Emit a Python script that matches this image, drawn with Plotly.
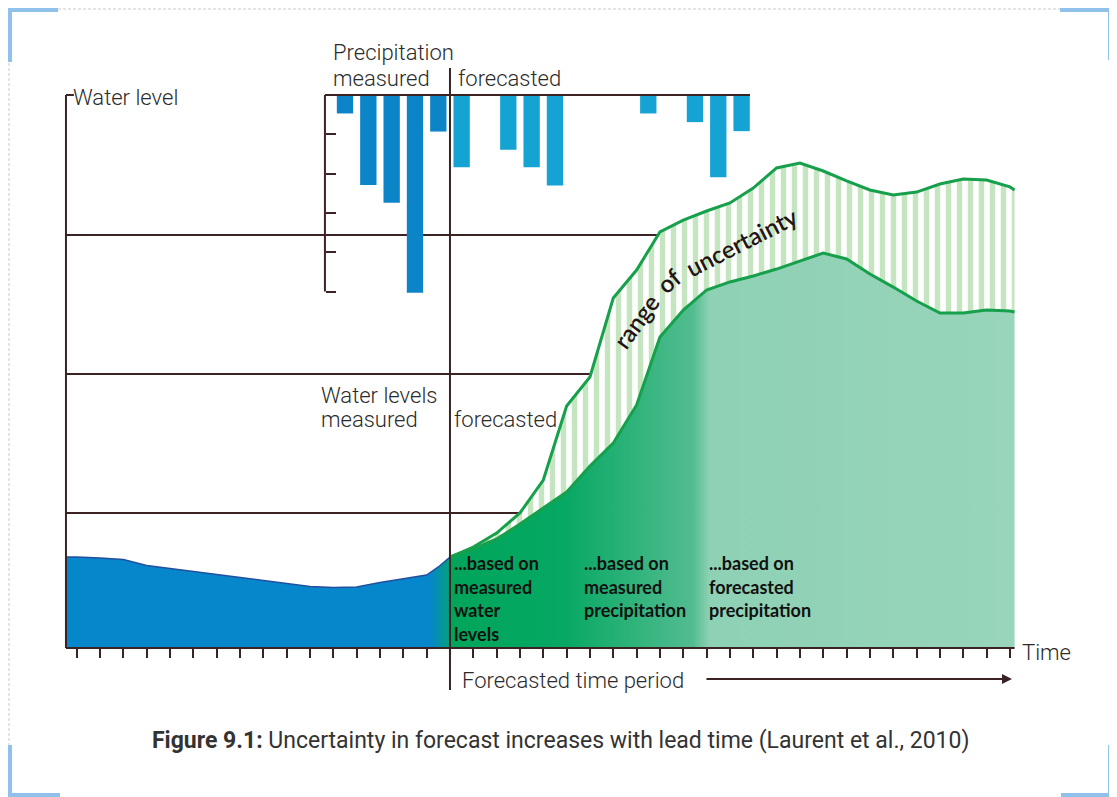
import plotly.graph_objects as go

# page is drawn 8px in from the window corner (default body margin)
OFF = 8
W, H = 1109, 789

# ---- data ----
# time steps (tick marks on the time axis)
time_ticks = list(range(0, 41))
t_start, t_now, t_end = -0.46, 16, 40.2

# measured water level (blue area)
meas_t = [-0.46, 0, 1, 2, 3, 4, 5, 6, 7, 8, 9, 10, 11, 12, 13, 14, 15, 15.5, 16]
meas_level = [0.657, 0.657, 0.650, 0.639, 0.596, 0.574, 0.556, 0.531, 0.509, 0.491,
              0.466, 0.444, 0.437, 0.440, 0.473, 0.502, 0.527, 0.585, 0.657]

# forecasted water level: lower and upper bound of the uncertainty range
fc_t = [16, 17, 18, 19, 20, 21, 22, 23, 24, 25, 26, 27, 28, 29, 30, 31, 32, 33, 34,
        35, 36, 37, 38, 39, 40, 40.2]
fc_low = [0.657, 0.715, 0.787, 0.895, 1.011, 1.126, 1.314, 1.480, 1.755, 2.245, 2.440,
          2.585, 2.643, 2.686, 2.736, 2.794, 2.852, 2.809, 2.700, 2.606, 2.505, 2.419,
          2.419, 2.440, 2.433, 2.426]
fc_high = [0.657, 0.729, 0.830, 0.975, 1.213, 1.747, 1.957, 2.527, 2.729, 3.004, 3.090,
           3.155, 3.213, 3.321, 3.466, 3.502, 3.444, 3.372, 3.307, 3.271, 3.292, 3.350,
           3.386, 3.379, 3.329, 3.307]

grid_levels = [0.975, 1.978, 2.982]
grid_end_t = 30
top_level = 3.993

# precipitation (bars hanging from the top line)
prec_meas_t = [11.5, 12.5, 13.5, 14.5, 15.5]
prec_meas = [0.47, 2.29, 2.74, 5.03, 0.93]
prec_fc_t = [16.5, 18.5, 19.5, 20.5, 24.5, 26.5, 27.5, 28.5]
prec_fc = [1.84, 1.39, 1.84, 2.30, 0.47, 0.69, 2.09, 0.92]
prec_ticks = [1, 2, 3, 4, 5]
prec_axis_t, prec_line_end_t = 10.64, 28.86

# ---- scale of the drawing (window pixels per unit) ----
X0, PX_T = 76.7, 23.33      # pixel of t=0, pixels per time step
Y0, PX_L = 648, 138.5       # pixel of level 0, pixels per level unit
P0, PX_P = 95, 39.3         # pixel of precipitation 0, pixels per unit

INK = '#3b2323'
TXT = '#2b2b2b'
GREEN_LINE = '#17a04c'


def px(x):
    return (x - OFF) / W


def py(y):
    return 1 - (y - OFF) / H


fig = go.Figure()

# horizontal reference lines (behind everything)
for lvl in grid_levels:
    fig.add_trace(go.Scatter(x=[t_start, grid_end_t], y=[lvl, lvl], mode='lines',
                             line=dict(color=INK, width=2), hoverinfo='skip'))

# measured water level
fig.add_trace(go.Scatter(
    x=meas_t, y=meas_level, mode='lines', fill='tozeroy',
    line=dict(color='#22509e', width=1.5),
    fillgradient=dict(type='horizontal', start=t_start, stop=t_now,
                      colorscale=[[0, '#0787cb'], [0.95, '#0787cb'], [1, '#03a07a']]),
))

# forecast: area under lower bound
fig.add_trace(go.Scatter(
    x=fc_t, y=fc_low, mode='lines', fill='tozeroy', line=dict(width=0),
    fillgradient=dict(type='horizontal', start=t_now, stop=t_end,
                      colorscale=[[0, '#00a55a'], [0.2, '#06a863'], [0.43, '#52bc8f'],
                                  [0.46, '#8ed1b4'], [1, '#98d5bb']]),
))
# forecast: hatched range of uncertainty
fig.add_trace(go.Scatter(
    x=fc_t, y=fc_high, mode='lines', fill='tonexty', line=dict(width=0),
    fillcolor='white',
    fillpattern=dict(shape='|', bgcolor='white', fgcolor='#8bcc84', size=11, solidity=0.5),
))
for series in (fc_low, fc_high):
    fig.add_trace(go.Scatter(x=fc_t, y=series, mode='lines',
                             line=dict(color=GREEN_LINE, width=3)))

# axes drawn as lines
fig.add_trace(go.Scatter(x=[t_start, t_start, None, t_start, t_end, None, t_start, -0.12],
                         y=[top_level, 0, None, 0, 0, None, top_level, top_level],
                         mode='lines', line=dict(color=INK, width=2)))
fig.add_trace(go.Scatter(x=[t_now, t_now], y=[-0.303, 4.188], mode='lines',
                         line=dict(color=INK, width=2)))

# precipitation axis + bars
fig.add_trace(go.Scatter(x=[prec_axis_t, prec_axis_t, None, prec_axis_t, prec_line_end_t],
                         y=[prec_ticks[-1], 0, None, 0, 0], yaxis='y2',
                         mode='lines', line=dict(color=INK, width=2)))
fig.add_trace(go.Bar(x=prec_meas_t, y=prec_meas, base=0, width=0.7, yaxis='y2',
                     marker=dict(color='#0b84c8', line=dict(width=0))))
fig.add_trace(go.Bar(x=prec_fc_t, y=prec_fc, base=0, width=0.7, yaxis='y2',
                     marker=dict(color='#14a3d3', line=dict(width=0))))


# ---- text ----
def label(text, x, y, size=22, anchor='left', color=TXT, family='Roboto', weight=300, **kw):
    fig.add_annotation(text=text, x=px(x), y=py(y), xref='paper', yref='paper',
                       xanchor=anchor, yanchor='middle', showarrow=False,
                       font=dict(family=family, size=size, color=color, weight=weight), **kw)


label('Water level', 71, 98)
label('Precipitation', 331, 52)
label('measured', 331, 78)
label('forecasted', 456, 78)
label('Water levels', 319, 395)
label('measured', 319, 420)
label('forecasted', 452, 420)
label('Time', 1020, 652)
label('Forecasted time period', 460, 680)

based_on = [
    (452, ['...based on', 'measured', 'water', 'levels']),
    (582, ['...based on', 'measured', 'precipitation']),
    (707, ['...based on', 'forecasted', 'precipitation']),
]
for x0, lines in based_on:
    for i, line in enumerate(lines):
        fig.add_annotation(text=line, x=px(x0), y=py(563 + 23.5 * i), xref='paper', yref='paper',
                           xanchor='left', yanchor='middle', showarrow=False,
                           font=dict(family='Lato', size=18, color='#111111', weight='bold'))

for word, x, y, ang in [('range', 636, 322, -54), ('of', 669, 281, -40),
                        ('uncertainty', 742, 242, -27)]:
    label(word, x, y, size=24, anchor='center', color='#231515', family='Lato',
          weight=600, textangle=ang)

label('<b>Figure 9.1:</b> Uncertainty in forecast increases with lead time (Laurent et al., 2010)',
      560, 740, size=23, anchor='center', color='#333333', weight=400)

# arrow for the forecast period
fig.add_annotation(x=40.09, y=-0.224, ax=26.93, ay=-0.224, xref='x', yref='y',
                   axref='x', ayref='y', text='', showarrow=True, arrowhead=2,
                   arrowsize=1, arrowwidth=2, arrowcolor=INK)

# ---- page frame ----
frame = '#c9c9c9'
for x0, y0, x1, y1 in [(8, 9, 1111, 9), (9, 8, 9, 796), (1111, 8, 1111, 796)]:
    fig.add_shape(type='line', xref='paper', yref='paper', x0=px(x0), y0=py(y0),
                  x1=px(x1), y1=py(y1), line=dict(color=frame, width=1, dash='3px,2px'))
corner = '#8fc1eb'
for xs, ys in [((8, 58, 10, 10), (10, 10, 8, 62)), ((1060, 1112, 1110, 1110), (10, 10, 8, 60)),
               ((10, 10, 8, 60), (745, 795, 795, 795)), ((1110, 1110, 1112, 1061), (745, 795, 795, 795))]:
    fig.add_shape(type='path', xref='paper', yref='paper',
                  path=f'M{px(xs[0])},{py(ys[0])} L{px(xs[1])},{py(ys[1])} '
                       f'M{px(xs[2])},{py(ys[2])} L{px(xs[3])},{py(ys[3])}',
                  line=dict(color=corner, width=4))

fig.update_layout(
    width=W, height=H,
    margin=dict(l=0, r=0, t=0, b=0),
    paper_bgcolor='white', plot_bgcolor='white',
    showlegend=False,
    barmode='overlay',
    xaxis=dict(range=[(OFF - X0) / PX_T, (OFF + W - X0) / PX_T], showgrid=False,
               zeroline=False, showline=False, ticks='outside', tickvals=time_ticks,
               ticklen=9, tickwidth=2, tickcolor=INK, showticklabels=False,
               anchor='free', position=1 - (Y0 - OFF) / H),
    yaxis=dict(range=[(Y0 - OFF - H) / PX_L, (Y0 - OFF) / PX_L], visible=False),
    yaxis2=dict(range=[(OFF + H - P0) / PX_P, (OFF - P0) / PX_P], overlaying='y',
                anchor='free', position=(X0 + prec_axis_t * PX_T - OFF) / W, side='left',
                showgrid=False, zeroline=False, showline=False, ticks='inside',
                tickvals=prec_ticks, ticklen=10, tickwidth=2, tickcolor=INK,
                showticklabels=False),
)

fig.write_html('out.html')
